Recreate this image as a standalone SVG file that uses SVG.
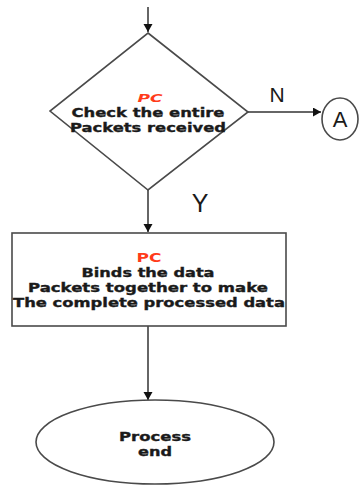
<svg xmlns="http://www.w3.org/2000/svg" width="359" height="485" viewBox="0 0 359 485">
<style>
.shape{fill:#fff;stroke:#4a4a4a;stroke-width:1.6}
.conn{stroke:#333;stroke-width:1.5;fill:none}
.t{font-family:"DejaVu Sans","Verdana",sans-serif;font-weight:bold;fill:#1a1a1a;stroke:#1a1a1a;stroke-width:0.35;text-anchor:middle}
.pc{font-family:"DejaVu Sans","Verdana",sans-serif;font-weight:bold;fill:#ff3b1a;text-anchor:middle}
.lbl{font-family:"Liberation Sans",Arial,sans-serif;fill:#1a1a1a;text-anchor:middle}
</style>
<defs>
<marker id="arr" markerUnits="userSpaceOnUse" markerWidth="10" markerHeight="10" refX="8" refY="4.5" orient="auto">
<path d="M0,0 L8,4.5 L0,9 z" fill="#111"/>
</marker>
</defs>
<rect width="359" height="485" fill="#fff"/>
<g id="connectors">
<line class="conn" x1="148" y1="7" x2="148" y2="32" marker-end="url(#arr)"/>
<line class="conn" x1="248" y1="112" x2="321" y2="112" marker-end="url(#arr)"/>
<line class="conn" x1="148" y1="190" x2="148" y2="232" marker-end="url(#arr)"/>
<line class="conn" x1="148" y1="326" x2="148" y2="400" marker-end="url(#arr)"/>
<text class="lbl" x="277" y="102" font-size="21">N</text>
<text class="lbl" x="200" y="212" font-size="25">Y</text>
</g>
<g id="decision">
<polygon class="shape" points="148,33 248,112 148,190 50,111"/>
<text class="pc" x="150" y="102" font-size="11" font-style="italic" textLength="25" lengthAdjust="spacingAndGlyphs">PC</text>
<text class="t" x="148" y="117" font-size="13" textLength="153" lengthAdjust="spacingAndGlyphs">Check the entire</text>
<text class="t" x="148" y="132" font-size="13" textLength="156" lengthAdjust="spacingAndGlyphs">Packets received</text>
</g>
<g id="connectorA">
<ellipse class="shape" cx="340" cy="119" rx="18" ry="21"/>
<text class="lbl" x="340" y="127" font-size="22">A</text>
</g>
<g id="process">
<rect class="shape" x="12" y="233" width="274" height="93"/>
<text class="pc" x="149" y="262" font-size="12" textLength="25" lengthAdjust="spacingAndGlyphs">PC</text>
<text class="t" x="148" y="277" font-size="12.5" textLength="133" lengthAdjust="spacingAndGlyphs">Binds the data</text>
<text class="t" x="148" y="292" font-size="12.5" textLength="240" lengthAdjust="spacingAndGlyphs">Packets together to make</text>
<text class="t" x="149" y="307" font-size="12.5" textLength="272" lengthAdjust="spacingAndGlyphs">The complete processed data</text>
</g>
<g id="end">
<ellipse class="shape" cx="155" cy="442" rx="119" ry="42"/>
<text class="t" x="155" y="441" font-size="12.5" textLength="72" lengthAdjust="spacingAndGlyphs">Process</text>
<text class="t" x="155" y="456" font-size="12.5" textLength="34" lengthAdjust="spacingAndGlyphs">end</text>
</g>
</svg>
